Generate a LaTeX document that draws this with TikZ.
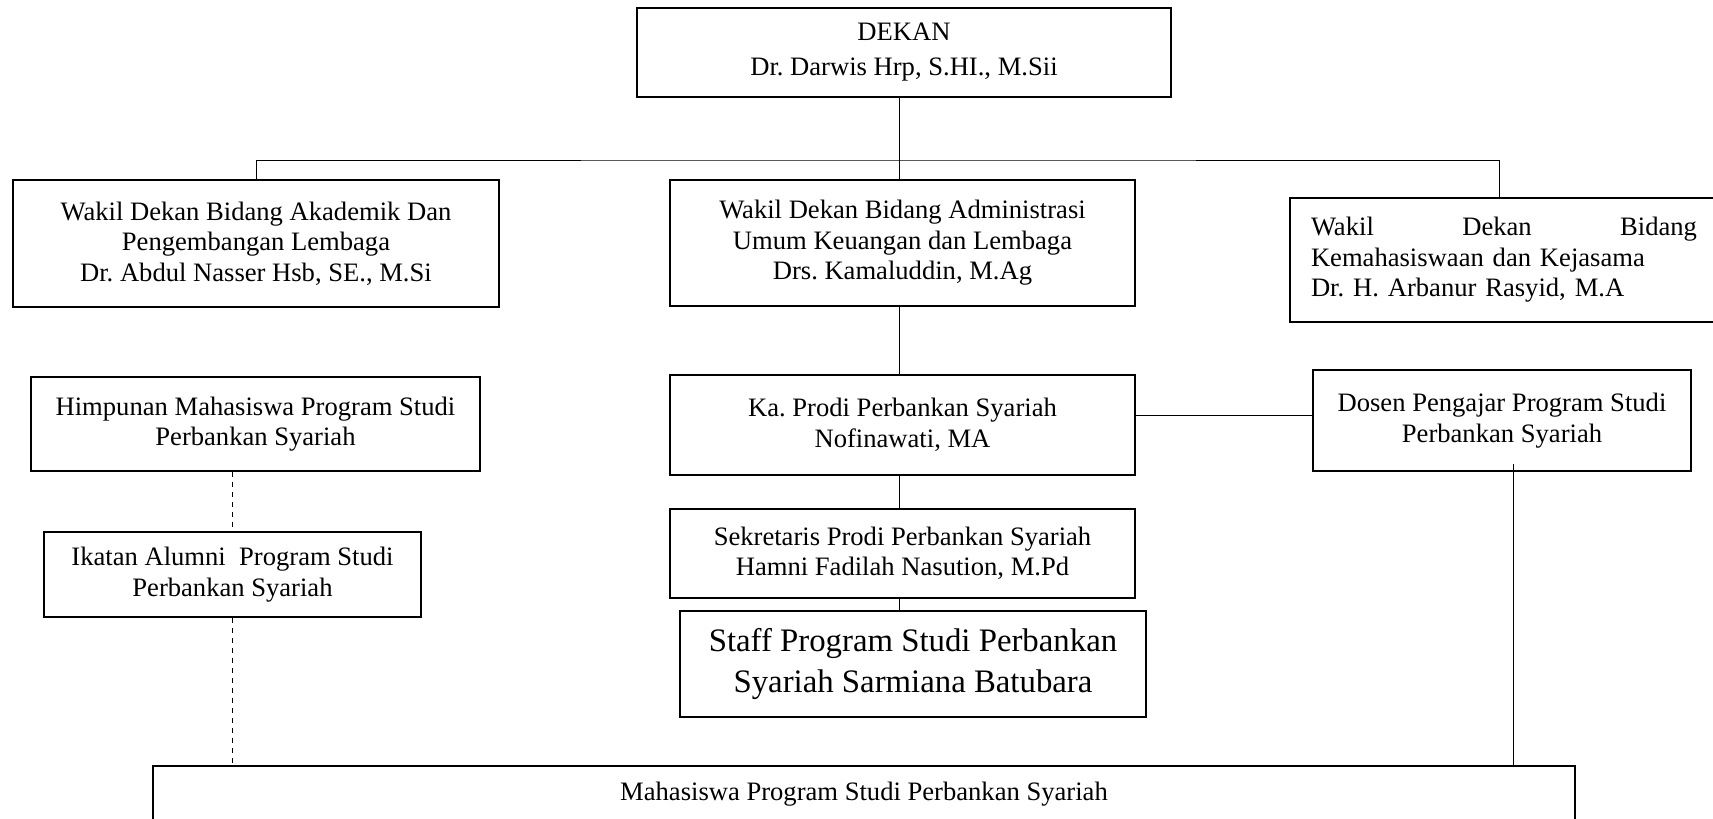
\documentclass[tikz,border=0pt]{standalone}
\usepackage{fontspec}
\setmainfont{Liberation Serif}
\usepackage{tikz}
\frenchspacing

\begin{document}
\begin{tikzpicture}[
    x=0.5pt, y=-0.5pt,
    box/.style={rectangle, draw, line width=1.3pt, align=center, inner sep=2pt, font=\fontsize{13.3}{15.3}\selectfont},
    link/.style={line width=0.5pt},
    dashlink/.style={line width=0.5pt, dash pattern=on 2.5pt off 2.5pt}
]
    \useasboundingbox (0,0) rectangle (1713,819);

    % Top
    \node[box, minimum width=267pt, minimum height=44.5pt, font=\fontsize{13.3}{17.5}\selectfont] (dekan) at (904,52.5) {DEKAN\\Dr. Darwis Hrp, S.HI., M.Sii};

    % Wakil dekan row
    \node[box, minimum width=243pt, minimum height=63.5pt] (wd1) at (256,243.5) {Wakil Dekan Bidang Akademik Dan\\Pengembangan Lembaga\\Dr. Abdul Nasser Hsb, SE., M.Si};
    \node[box, minimum width=232.5pt, minimum height=63pt] (wd2) at (902.5,243) {Wakil Dekan Bidang Administrasi\\Umum Keuangan dan Lembaga\\Drs. Kamaluddin, M.Ag};
    \node[box, align=left, text width=193pt, inner xsep=10.5pt, minimum height=62pt] (wd3) at (1504,260) {Wakil\hfill Dekan\hfill Bidang\\Kemahasiswaan dan Kejasama\\Dr. H. Arbanur Rasyid, M.A};

    % Prodi
    \node[box, minimum width=232.5pt, minimum height=50pt] (kaprodi) at (902.5,425) {Ka. Prodi Perbankan Syariah\\Nofinawati, MA};
    \node[box, minimum width=189pt, minimum height=50.5pt] (dosen) at (1502,420.5) {Dosen Pengajar Program Studi\\Perbankan Syariah};
    \node[box, minimum width=232.5pt, minimum height=44.5pt] (sekretaris) at (902.5,553.5) {Sekretaris Prodi Perbankan Syariah\\Hamni Fadilah Nasution, M.Pd};
    \node[box, minimum width=233pt, minimum height=53pt, font=\fontsize{16.4}{20.7}\selectfont] (staff) at (913,664) {Staff Program Studi Perbankan\\Syariah Sarmiana Batubara};

    % Left column
    \node[box, minimum width=224.5pt, minimum height=47pt] (himpunan) at (255.5,424) {Himpunan Mahasiswa Program Studi\\Perbankan Syariah};
    \node[box, minimum width=188.5pt, minimum height=42.5pt] (ikatan) at (232.5,574.5) {Ikatan Alumni~ Program Studi\\Perbankan Syariah};

    % Bottom
    \node[box, minimum width=711pt, minimum height=28pt] (mhs) at (864,794) {Mahasiswa Program Studi Perbankan Syariah};

    \coordinate (bus) at (899,160);
    \draw[link] ([xshift=-2.5pt]dekan.south) -- ([xshift=-2.5pt]dekan.south |- wd2.north);
    \draw[link] (wd1.north) |- (bus) -| ([xshift=-2.5pt]wd3.north);
    \draw[link] ([xshift=-1.5pt]wd2.south) -- ([xshift=-1.5pt]kaprodi.north);
    \draw[link] ([xshift=-1.5pt]kaprodi.south) -- ([xshift=-1.5pt]sekretaris.north);
    \draw[link] ([xshift=-1.5pt]sekretaris.south) -- ([xshift=-1.5pt]sekretaris.south |- staff.north);
    \draw[link] ([yshift=5pt]kaprodi.east) -- ([yshift=5pt]kaprodi.east -| dosen.west);
    \draw[link] ([xshift=5.5pt,yshift=4pt]dosen.south) -- ([xshift=5.5pt]dosen.south |- mhs.north);
    \draw[dashlink] (ikatan.north |- himpunan.south) -- (ikatan.north);
    \draw[dashlink] (ikatan.south) -- (ikatan.south |- mhs.north);
\end{tikzpicture}
\end{document}
